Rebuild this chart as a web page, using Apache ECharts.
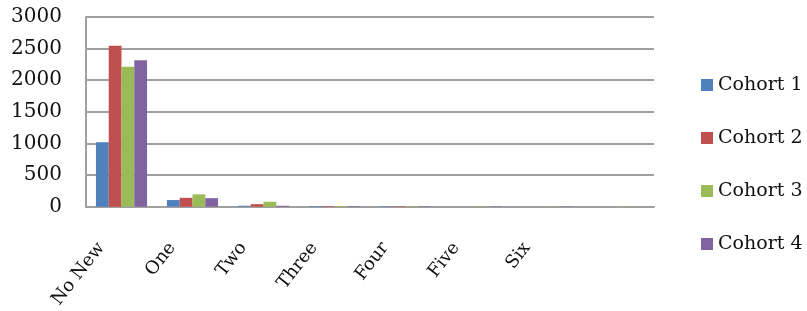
<!DOCTYPE html>
<html>
<head>
<meta charset="utf-8">
<script src="https://cdn.jsdelivr.net/npm/echarts@6/dist/echarts.min.js"></script>
<style>
  html, body { margin: 0; padding: 0; background: #fff; }
  #chart { width: 807px; height: 311px; }
</style>
</head>
<body>
<div id="chart"></div>
<script>
// categories (last one has no label in the original)
var categories = ['No New', 'One', 'Two', 'Three', 'Four', 'Five', 'Six', ''];
var cohort1 = [1020, 105, 15, 10, 8, 0, 0, 0];
var cohort2 = [2545, 140, 40, 10, 8, 0, 0, 0];
var cohort3 = [2215, 195, 78, 10, 8, 6, 6, 6];
var cohort4 = [2315, 135, 15, 10, 8, 6, 6, 0];
var seriesNames = ['Cohort 1', 'Cohort 2', 'Cohort 3', 'Cohort 4'];
var colors = ['#4F81BD', '#C0504D', '#9BBB59', '#8064A2'];

var font = 'DejaVu Serif';
var myChart = echarts.init(document.getElementById('chart'));

function bar(name, data, i) {
    return {
        name: name,
        type: 'bar',
        data: data,
        barGap: '0%',
        barCategoryGap: '28%',
        itemStyle: { color: colors[i] }
    };
}

var option = {
    animation: false,
    backgroundColor: '#fff',
    grid: {
        left: 86,
        right: 153,
        top: 17,
        bottom: 100
    },
    legend: {
        orient: 'vertical',
        left: 696,
        top: 69,
        itemWidth: 12,
        itemHeight: 12,
        itemGap: 31,
        icon: 'rect',
        data: seriesNames,
        textStyle: {
            fontFamily: font,
            fontSize: 19,
            lineHeight: 22,
            color: '#111'
        }
    },
    xAxis: {
        type: 'category',
        data: categories,
        axisLine: { lineStyle: { color: '#a0a0a0', width: 2 } },
        axisTick: { show: false },
        axisLabel: {
            interval: 0,
            rotate: 52,
            margin: 12,
            padding: [0, 33, 0, 0],
            fontFamily: font,
            fontSize: 18,
            color: '#111'
        }
    },
    yAxis: {
        type: 'value',
        min: 0,
        max: 3000,
        interval: 500,
        axisLine: { show: true, lineStyle: { color: '#a0a0a0', width: 2 } },
        axisTick: { show: false },
        splitLine: { lineStyle: { color: '#a0a0a0', width: 2 } },
        axisLabel: {
            margin: 24,
            fontFamily: font,
            fontSize: 20,
            color: '#111',
            formatter: function (v) { return String(v); }
        }
    },
    series: [
        bar(seriesNames[0], cohort1, 0),
        bar(seriesNames[1], cohort2, 1),
        bar(seriesNames[2], cohort3, 2),
        bar(seriesNames[3], cohort4, 3)
    ]
};

myChart.setOption(option);
</script>
</body>
</html>
